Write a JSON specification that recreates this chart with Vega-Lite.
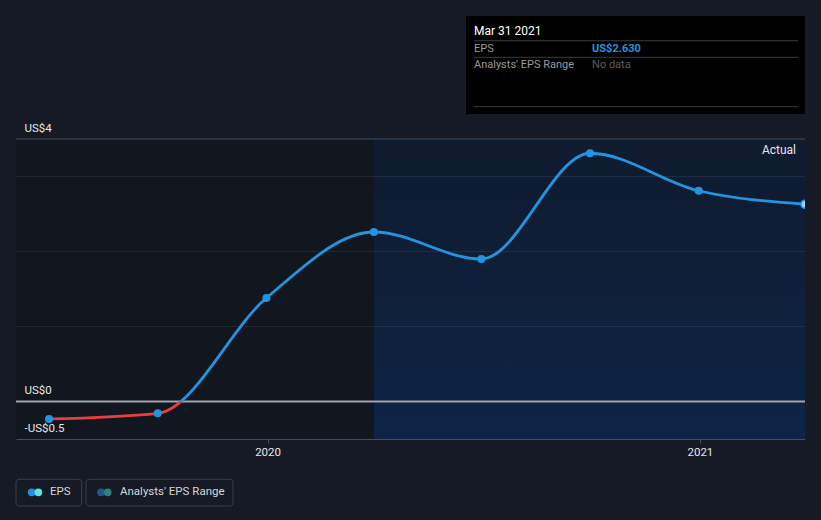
{
  "$schema": "https://vega.github.io/schema/vega-lite/v6.json",
  "width": 789,
  "height": 300,
  "autosize": {"type": "none"},
  "padding": {"left": 16, "top": 139, "right": 16, "bottom": 81},
  "background": "#151a25",
  "config": {"view": {"stroke": null}, "font": "Roboto", "text": {"font": "Roboto"}, "axis": {"grid": false, "title": null}},
  "datasets": {
    "eps": [
      {"date": "2019-06-30", "eps": -0.233},
      {"date": "2019-09-30", "eps": -0.157},
      {"date": "2019-12-31", "eps": 1.38},
      {"date": "2020-03-31", "eps": 2.26},
      {"date": "2020-06-30", "eps": 1.9},
      {"date": "2020-09-30", "eps": 3.31},
      {"date": "2020-12-31", "eps": 2.81},
      {"date": "2021-03-31", "eps": 2.63}
    ],
    "one": [{}],
    "grid": [{"g": 1}, {"g": 2}, {"g": 3}]
  },
  "layer": [
    {
      "data": {"name": "one"},
      "mark": {"type": "rect", "fill": "#12161f"},
      "encoding": {
        "x": {
          "datum": {"year": 2019, "month": 6, "date": 2, "utc": true}, "type": "temporal",
          "scale": {"type": "utc", "domain": [{"year": 2019, "month": 6, "date": 2, "utc": true}, {"year": 2021, "month": 3, "date": 31, "utc": true}]},
          "axis": {
            "values": [{"year": 2020, "month": 1, "date": 1, "utc": true}, {"year": 2021, "month": 1, "date": 1, "utc": true}],
            "format": "%Y", "title": null, "grid": false,
            "domainColor": "#474c57", "tickColor": "#474c57", "tickSize": 4,
            "labelColor": "#e6e6e6", "labelFontSize": 11.5, "labelPadding": 12,
            "labelBaseline": "alphabetic", "labelFlush": false, "labelFont": "Roboto", "zindex": 1
          }
        },
        "x2": {"datum": {"year": 2020, "month": 3, "date": 31, "utc": true}},
        "y": {
          "datum": 3.5, "type": "quantitative",
          "scale": {"domain": [-0.5, 3.5], "nice": false, "zero": false},
          "axis": {
            "values": [-0.5, 0, 3.5],
            "labelExpr": "datum.value == 3.5 ? 'US$4' : (datum.value == 0 ? 'US$0' : '-US$0.5')",
            "title": null, "grid": false, "domain": false, "ticks": false, "tickSize": 0,
            "labelAlign": "left", "labelPadding": -8, "labelOffset": -8, "labelBaseline": "alphabetic",
            "labelColor": "#e6e6e6", "labelFontSize": 11.5, "labelFont": "Roboto",
            "labelFlush": false, "labelOverlap": false, "labelBound": false, "zindex": 1
          }
        },
        "y2": {"datum": -0.5}
      }
    },
    {
      "data": {"name": "one"},
      "mark": {"type": "rect", "fill": {"gradient": "linear", "x1": 0, "y1": 0, "x2": 0, "y2": 1, "stops": [{"offset": 0, "color": "#0f1b2e"}, {"offset": 1, "color": "#0d2446"}]}},
      "encoding": {
        "x": {"datum": {"year": 2020, "month": 3, "date": 31, "utc": true}, "type": "temporal"},
        "x2": {"datum": {"year": 2021, "month": 3, "date": 31, "utc": true}},
        "y": {"datum": 3.5, "type": "quantitative"},
        "y2": {"datum": -0.5}
      }
    },
    {
      "data": {"name": "grid"},
      "mark": {"type": "rule", "stroke": "#ffffff", "strokeOpacity": 0.07, "strokeWidth": 1},
      "encoding": {"y": {"field": "g", "type": "quantitative"}}
    },
    {
      "data": {"name": "one"},
      "mark": {"type": "rule", "stroke": "#474c57", "strokeWidth": 1},
      "encoding": {"y": {"datum": 3.5, "type": "quantitative"}}
    },
    {
      "data": {"name": "one"},
      "mark": {"type": "rule", "stroke": "#a2a4a8", "strokeWidth": 1.8},
      "encoding": {"y": {"datum": 0, "type": "quantitative"}}
    },
    {
      "data": {"name": "eps"},
      "mark": {
        "type": "line",
        "interpolate": "monotone",
        "strokeWidth": 2.8,
        "stroke": {"gradient": "linear", "x1": 0, "y1": 0, "x2": 0, "y2": 1, "stops": [
          {"offset": 0, "color": "#2394df"},
          {"offset": 0.9342, "color": "#2394df"},
          {"offset": 0.9342, "color": "#e5403f"},
          {"offset": 1, "color": "#e5403f"}
        ]}
      },
      "encoding": {
        "x": {"field": "date", "type": "temporal"},
        "y": {"field": "eps", "type": "quantitative"}
      }
    },
    {
      "data": {"name": "eps"},
      "transform": [{"filter": "utcyear(datum.date) < 2021"}],
      "mark": {"type": "point", "filled": true, "fill": "#2394df", "size": 66, "opacity": 1},
      "encoding": {
        "x": {"field": "date", "type": "temporal"},
        "y": {"field": "eps", "type": "quantitative"}
      }
    },
    {
      "data": {"name": "eps"},
      "transform": [{"filter": "utcyear(datum.date) >= 2021"}],
      "mark": {"type": "point", "filled": true, "fill": "#9ad2fb", "stroke": "#2394df", "strokeWidth": 1.5, "size": 66, "opacity": 1, "clip": true},
      "encoding": {
        "x": {"field": "date", "type": "temporal"},
        "y": {"field": "eps", "type": "quantitative"}
      }
    },
    {
      "data": {"name": "one"},
      "mark": {"type": "text", "text": "Actual", "align": "right", "baseline": "alphabetic", "fontSize": 12, "color": "#e6e6e6", "dx": -9},
      "encoding": {
        "x": {"datum": {"year": 2021, "month": 3, "date": 31, "utc": true}, "type": "temporal"},
        "y": {"datum": 3.296, "type": "quantitative"}
      }
    },
    {
      "data": {"name": "one"},
      "mark": {"type": "rect", "fill": "#000000"},
      "encoding": {
        "x": {"datum": {"year": 2020, "month": 6, "date": 17, "utc": true}, "type": "temporal"},
        "x2": {"datum": {"year": 2021, "month": 3, "date": 31, "utc": true}},
        "y": {"datum": 5.14, "type": "quantitative"},
        "y2": {"datum": 3.833}
      }
    },
    {
      "data": {"name": "one"},
      "mark": {"type": "rule", "stroke": "#3c3c3c", "strokeWidth": 1},
      "encoding": {
        "x": {"datum": {"year": 2020, "month": 6, "date": 23, "hours": 18, "utc": true}, "type": "temporal"},
        "x2": {"datum": {"year": 2021, "month": 3, "date": 25, "hours": 2, "utc": true}},
        "y": {"datum": 4.81, "type": "quantitative"}
      }
    },
    {
      "data": {"name": "one"},
      "mark": {"type": "rule", "stroke": "#3c3c3c", "strokeWidth": 1},
      "encoding": {
        "x": {"datum": {"year": 2020, "month": 6, "date": 23, "hours": 18, "utc": true}, "type": "temporal"},
        "x2": {"datum": {"year": 2021, "month": 3, "date": 25, "hours": 2, "utc": true}},
        "y": {"datum": 4.589, "type": "quantitative"}
      }
    },
    {
      "data": {"name": "one"},
      "mark": {"type": "rule", "stroke": "#3c3c3c", "strokeWidth": 1},
      "encoding": {
        "x": {"datum": {"year": 2020, "month": 6, "date": 23, "hours": 18, "utc": true}, "type": "temporal"},
        "x2": {"datum": {"year": 2021, "month": 3, "date": 25, "hours": 2, "utc": true}},
        "y": {"datum": 3.931, "type": "quantitative"}
      }
    },
    {
      "data": {"name": "one"},
      "mark": {"type": "text", "text": "Mar 31 2021", "align": "left", "baseline": "alphabetic", "fontSize": 12, "color": "#ffffff"},
      "encoding": {
        "x": {"datum": {"year": 2020, "month": 6, "date": 23, "hours": 18, "utc": true}, "type": "temporal"},
        "y": {"datum": 4.887, "type": "quantitative"}
      }
    },
    {
      "data": {"name": "one"},
      "mark": {"type": "text", "text": "EPS", "align": "left", "baseline": "alphabetic", "fontSize": 11, "color": "#9a9a9a"},
      "encoding": {
        "x": {"datum": {"year": 2020, "month": 6, "date": 23, "hours": 18, "utc": true}, "type": "temporal"},
        "y": {"datum": 4.664, "type": "quantitative"}
      }
    },
    {
      "data": {"name": "one"},
      "mark": {"type": "text", "text": "Analysts' EPS Range", "align": "left", "baseline": "alphabetic", "fontSize": 11, "color": "#9a9a9a"},
      "encoding": {
        "x": {"datum": {"year": 2020, "month": 6, "date": 23, "hours": 18, "utc": true}, "type": "temporal"},
        "y": {"datum": 4.447, "type": "quantitative"}
      }
    },
    {
      "data": {"name": "one"},
      "mark": {"type": "text", "text": "US$2.630", "align": "left", "baseline": "alphabetic", "fontSize": 11, "fontWeight": "bold", "color": "#2394df"},
      "encoding": {
        "x": {"datum": {"year": 2020, "month": 10, "date": 1, "hours": 17, "utc": true}, "type": "temporal"},
        "y": {"datum": 4.664, "type": "quantitative"}
      }
    },
    {
      "data": {"name": "one"},
      "mark": {"type": "text", "text": "No data", "align": "left", "baseline": "alphabetic", "fontSize": 11, "color": "#5e5e5e"},
      "encoding": {
        "x": {"datum": {"year": 2020, "month": 10, "date": 1, "hours": 17, "utc": true}, "type": "temporal"},
        "y": {"datum": 4.447, "type": "quantitative"}
      }
    },
    {
      "data": {"name": "one"},
      "mark": {"type": "rect", "fill": "#151a25", "stroke": "#3a3f4a", "strokeWidth": 1, "cornerRadius": 3},
      "encoding": {
        "x": {"datum": {"year": 2019, "month": 6, "date": 2, "utc": true}, "type": "temporal"},
        "x2": {"datum": {"year": 2019, "month": 7, "date": 27, "hours": 14, "utc": true}},
        "y": {"datum": -1.037, "type": "quantitative"},
        "y2": {"datum": -1.393}
      }
    },
    {
      "data": {"name": "one"},
      "mark": {"type": "rect", "fill": "#151a25", "stroke": "#3a3f4a", "strokeWidth": 1, "cornerRadius": 3},
      "encoding": {
        "x": {"datum": {"year": 2019, "month": 7, "date": 31, "hours": 7, "utc": true}, "type": "temporal"},
        "x2": {"datum": {"year": 2019, "month": 12, "date": 2, "hours": 17, "utc": true}},
        "y": {"datum": -1.037, "type": "quantitative"},
        "y2": {"datum": -1.393}
      }
    },
    {
      "data": {"name": "one"},
      "mark": {"type": "point", "filled": true, "fill": "#1f8fe5", "size": 60, "opacity": 1},
      "encoding": {
        "x": {"datum": {"year": 2019, "month": 6, "date": 15, "hours": 7, "utc": true}, "type": "temporal"},
        "y": {"datum": -1.211, "type": "quantitative"}
      }
    },
    {
      "data": {"name": "one"},
      "mark": {"type": "point", "filled": true, "fill": "#63e0da", "size": 60, "opacity": 1},
      "encoding": {
        "x": {"datum": {"year": 2019, "month": 6, "date": 20, "hours": 22, "utc": true}, "type": "temporal"},
        "y": {"datum": -1.211, "type": "quantitative"}
      }
    },
    {
      "data": {"name": "one"},
      "mark": {"type": "point", "filled": true, "fill": "#1f5a85", "size": 60, "opacity": 1},
      "encoding": {
        "x": {"datum": {"year": 2019, "month": 8, "date": 13, "utc": true}, "type": "temporal"},
        "y": {"datum": -1.211, "type": "quantitative"}
      }
    },
    {
      "data": {"name": "one"},
      "mark": {"type": "point", "filled": true, "fill": "#2e7f7f", "size": 60, "opacity": 1},
      "encoding": {
        "x": {"datum": {"year": 2019, "month": 8, "date": 18, "hours": 15, "utc": true}, "type": "temporal"},
        "y": {"datum": -1.211, "type": "quantitative"}
      }
    },
    {
      "data": {"name": "one"},
      "mark": {"type": "text", "text": "EPS", "align": "left", "baseline": "middle", "fontSize": 11.5, "color": "#d6d6d6"},
      "encoding": {
        "x": {"datum": {"year": 2019, "month": 6, "date": 30, "hours": 19, "utc": true}, "type": "temporal"},
        "y": {"datum": -1.211, "type": "quantitative"}
      }
    },
    {
      "data": {"name": "one"},
      "mark": {"type": "text", "text": "Analysts' EPS Range", "align": "left", "baseline": "middle", "fontSize": 11.5, "color": "#d6d6d6"},
      "encoding": {
        "x": {"datum": {"year": 2019, "month": 8, "date": 29, "hours": 1, "utc": true}, "type": "temporal"},
        "y": {"datum": -1.211, "type": "quantitative"}
      }
    }
  ]
}
